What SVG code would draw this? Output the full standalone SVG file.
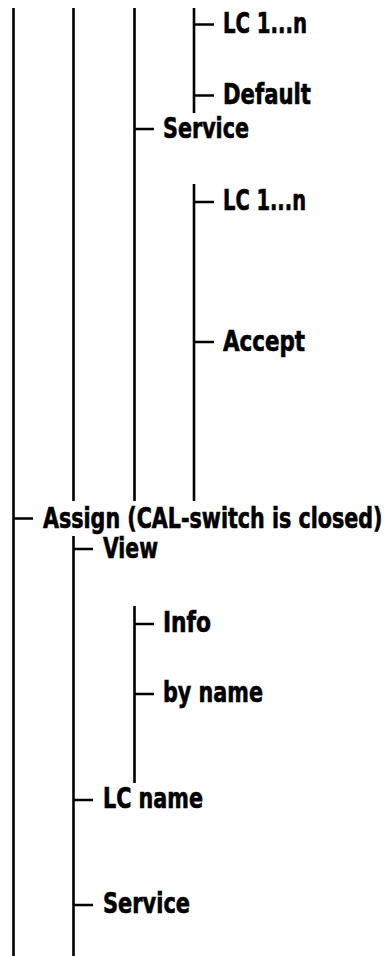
<svg xmlns="http://www.w3.org/2000/svg" width="387" height="956" viewBox="0 0 387 956">
<style>
.ln{stroke:#000;stroke-width:2.6;fill:none}
.t{font-family:"DejaVu Sans","Liberation Sans",sans-serif;font-stretch:condensed;font-weight:bold;font-size:27.5px;fill:#000;stroke:#000;stroke-width:0.6}
</style>
<rect width="387" height="956" fill="#fff"/>
<g id="connectors">
<path class="ln" d="M13.5 8V956M73.5 8V501M73.5 536V956M134.5 8V501M134.5 606V783M194 8V113M194 184V501"/>
<path class="ln" d="M194 24.5H214M194 95.5H214M134.5 129H154M194 202H214M194 342H214M13.5 518.5H33M73.5 549H93M134.5 624H154M134.5 694H154M73.5 800H93M73.5 905H93"/>
</g>
<g id="lc1"><text class="t" x="223" y="33" textLength="84" lengthAdjust="spacingAndGlyphs">LC 1...n</text></g>
<g id="default"><text class="t" x="223" y="104" textLength="88" lengthAdjust="spacingAndGlyphs">Default</text></g>
<g id="service1"><text class="t" x="163" y="137.5" textLength="86" lengthAdjust="spacingAndGlyphs">Service</text></g>
<g id="lc2"><text class="t" x="223" y="209.5" textLength="83" lengthAdjust="spacingAndGlyphs">LC 1...n</text></g>
<g id="accept"><text class="t" x="223" y="350.5" textLength="82" lengthAdjust="spacingAndGlyphs">Accept</text></g>
<g id="assign" transform="translate(43 527.5) scale(0.82 1)"><text class="t" x="0" y="0" textLength="414" lengthAdjust="spacingAndGlyphs">Assign (CAL-switch is closed)</text></g>
<g id="view"><text class="t" x="103" y="558" textLength="55" lengthAdjust="spacingAndGlyphs">View</text></g>
<g id="info"><text class="t" x="163" y="632" textLength="48" lengthAdjust="spacingAndGlyphs">Info</text></g>
<g id="byname"><text class="t" x="163" y="702" textLength="100" lengthAdjust="spacingAndGlyphs">by name</text></g>
<g id="lcname"><text class="t" x="103" y="807.5" textLength="100" lengthAdjust="spacingAndGlyphs">LC name</text></g>
<g id="service2"><text class="t" x="103" y="913" textLength="87" lengthAdjust="spacingAndGlyphs">Service</text></g>
</svg>
